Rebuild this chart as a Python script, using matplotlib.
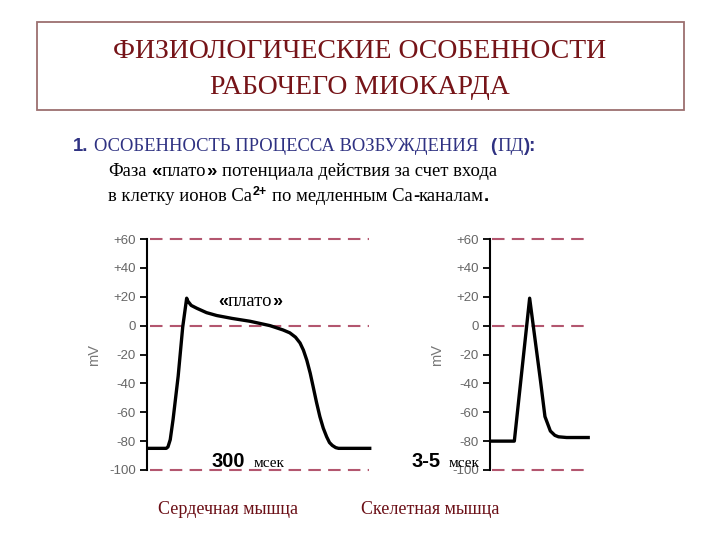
import matplotlib
matplotlib.use("Agg")
import matplotlib.pyplot as plt
from matplotlib.patches import Rectangle

# Cardiac action potential (time in ms, membrane potential in mV)
heart_t = [0, 34, 37, 41, 46, 55, 63, 70, 72, 78, 88, 105, 123, 150, 182, 217,
           240, 252, 262, 270, 276, 282, 288, 293, 299, 305, 311, 317, 322, 327, 333, 338, 393]
heart_v = [-85, -85, -84, -79, -65, -35, -1, 19, 17, 14, 12, 9, 7, 5, 3, 0,
           -3, -5, -8, -12, -17, -24, -33, -42, -53, -63, -71, -77, -81, -83, -84.5, -85, -85]

# Skeletal muscle action potential
skel_t = [0, 2.7, 4.4, 4.8, 5.6, 6.1, 6.7, 7.2, 7.6, 8.5, 10.9]
skel_v = [-80, -80, 19, 0, -38, -63, -73, -76, -77, -77.5, -77.5]

yticks = [60, 40, 20, 0, -20, -40, -60, -80, -100]
ytick_labels = ["+60", "+40", "+20", "0", "-20", "-40", "-60", "-80", "-100"]
ref_lines = [60, 0, -100]

W, H = 720, 540
TITLE_RED = "#761418"
NAVY = "#2f3282"
DASH = "#b3566f"
SERIF = "Liberation Serif"
SANS = "Liberation Sans"

fig = plt.figure(figsize=(7.2, 5.4), dpi=100)
renderer = fig.canvas.get_renderer()


def fx(x):
    return x / W


def fy(y):
    return 1 - y / H


def draw_runs(x, y, runs):
    """ Draw text runs side by side starting at pixel (x, baseline y)."""
    for s, kw, gap in runs:
        dy = kw.pop("rise", 0)
        t = fig.text(fx(x), fy(y - dy), s, va="baseline", ha="left", **kw)
        x += t.get_window_extent(renderer).width + gap


def make_axes(left, right, xmax, t, v):
    ax = fig.add_axes([fx(left), fy(470), fx(right - left), 231 / H])
    ax.set_xlim(0, xmax)
    ax.set_ylim(-100, 60)
    for yv in ref_lines:
        ax.plot([xmax * 0.015, xmax * 0.985], [yv, yv], ls=(0, (6, 3.5)),
                color=DASH, lw=1.5, clip_on=False)
    ax.plot(t, v, color="black", lw=2.4, solid_joinstyle="round", zorder=3)
    for s in ["top", "right", "bottom"]:
        ax.spines[s].set_visible(False)
    ax.spines["left"].set_linewidth(1.5)
    ax.set_xticks([])
    ax.set_yticks(yticks)
    ax.set_yticklabels(ytick_labels, fontfamily=SANS, fontsize=9.5, color="#666666")
    ax.tick_params(axis="y", length=5, width=1.3, pad=3)
    ax.set_ylabel("mV", fontfamily=SANS, fontsize=10.5, color="#777777", labelpad=6)
    ax.patch.set_alpha(0)
    return ax


ax1 = make_axes(147, 372, 397, heart_t, heart_v)
ax2 = make_axes(490, 590, 11.1, skel_t, skel_v)

# Title box
fig.patches.append(Rectangle((fx(37), fy(110)), fx(684 - 37), (110 - 22) / H,
                             transform=fig.transFigure, fill=False,
                             edgecolor="#9c7070", lw=1.3))
fig.text(0.5, fy(58), "ФИЗИОЛОГИЧЕСКИЕ ОСОБЕННОСТИ", ha="center", va="baseline",
         family=SERIF, fontsize=20, color=TITLE_RED)
fig.text(0.5, fy(94), "РАБОЧЕГО МИОКАРДА", ha="center", va="baseline",
         family=SERIF, fontsize=20, color=TITLE_RED)

serif = dict(family=SERIF, fontsize=13.4)
bold = dict(family=SANS, fontsize=13.4, fontweight="bold")

draw_runs(73, 151, [
    ("1.", dict(bold, color=NAVY), 6),
    ("ОСОБЕННОСТЬ ПРОЦЕССА ВОЗБУЖДЕНИЯ", dict(serif, color=NAVY), 11),
    ("(", dict(bold, color=NAVY), 1),
    ("ПД", dict(serif, color=NAVY), 1),
    ("):", dict(bold, color=NAVY), 0),
])
draw_runs(108, 176, [
    ("Фаза", dict(serif, color="black"), 5),
    ("«", dict(bold, color="black"), 0),
    ("плато", dict(serif, color="black"), 0),
    ("»", dict(bold, color="black"), 5),
    ("потенциала действия за счет входа", dict(serif, color="black"), 0),
])
draw_runs(108, 201, [
    ("в клетку ионов Ca", dict(serif, color="black"), 1),
    ("2+", dict(family=SANS, fontsize=9, fontweight="bold", color="black", rise=6), 5),
    ("по медленным Ca", dict(serif, color="black"), 0),
    ("-", dict(bold, color="black"), 0),
    ("каналам", dict(serif, color="black"), 0),
    (".", dict(bold, color="black"), 0),
])

# Annotations on the charts
draw_runs(218, 306, [
    ("«", dict(family=SANS, fontsize=13, fontweight="bold"), 0),
    ("плато", dict(family=SERIF, fontsize=13.4), 0),
    ("»", dict(family=SANS, fontsize=13, fontweight="bold"), 0),
])
draw_runs(212, 467, [
    ("300", dict(family=SANS, fontsize=14.5, fontweight="bold"), 8),
    ("мсек", dict(family=SERIF, fontsize=11), 0),
])
draw_runs(412, 467, [
    ("3-5", dict(family=SANS, fontsize=14.5, fontweight="bold"), 7),
    ("мсек", dict(family=SERIF, fontsize=11), 0),
])

fig.text(fx(228), fy(514), "Сердечная мышца", ha="center", va="baseline",
         family=SERIF, fontsize=13, color="#6b0f16")
fig.text(fx(430), fy(514), "Скелетная мышца", ha="center", va="baseline",
         family=SERIF, fontsize=13, color="#6b0f16")

fig.savefig("out.png", dpi=100)
